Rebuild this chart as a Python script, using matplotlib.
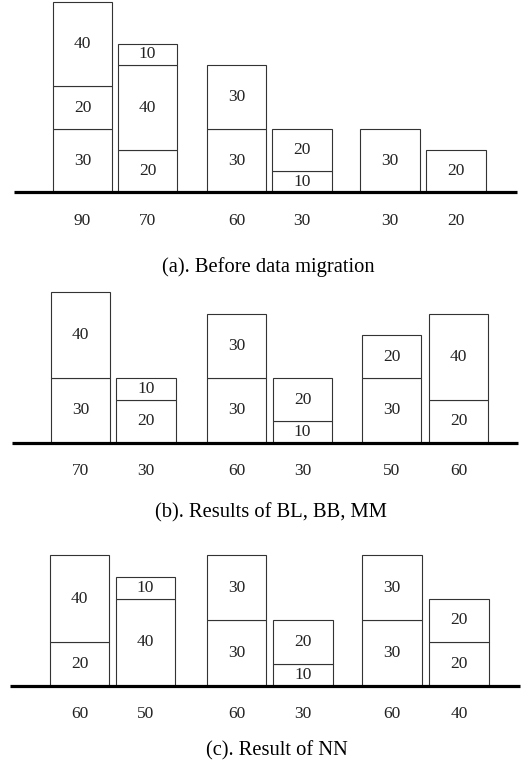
import matplotlib
matplotlib.use('Agg')
import matplotlib.pyplot as plt

plt.rcParams['font.family'] = ['Liberation Serif', 'DejaVu Serif']

W, H = 531, 769

# stacked segments of each bar, bottom to top
before = [[30, 20, 40], [20, 40, 10], [30, 30], [10, 20], [30], [20]]
bl_bb_mm = [[30, 40], [20, 10], [30, 30], [10, 20], [30, 20], [20, 40]]
nn = [[20, 40], [40, 10], [30, 30], [10, 20], [30, 30], [20, 20]]
captions = ['(a). Before data migration',
            '(b). Results of BL, BB, MM',
            '(c). Result of NN']

# layout of each panel in pixels (from the top of the image)
panels = [
    dict(data=before, base=192.3, top=0, scale=2.12, line=(14, 517),
         centers=[82.5, 147.5, 236.5, 302, 390, 456], total_y=221,
         cap_x=268, cap_y=267),
    dict(data=bl_bb_mm, base=442.7, top=280, scale=2.15, line=(12, 518),
         centers=[80.5, 146, 236.5, 302.5, 391.5, 458.5], total_y=471,
         cap_x=271, cap_y=513),
    dict(data=nn, base=685.7, top=530, scale=2.18, line=(10, 520),
         centers=[79.5, 145.5, 236.5, 303, 392, 459], total_y=714,
         cap_x=277, cap_y=751),
]
bar_w = 59.5
txt_col = '#222222'

fig = plt.figure(figsize=(W / 100, H / 100), dpi=100)

for p, cap in zip(panels, captions):
    h = p['base'] - p['top']
    ax = fig.add_axes([0, 1 - p['base'] / H, 1, h / H])
    ax.set_xlim(0, W)
    ax.set_ylim(0, h / p['scale'])
    ax.axis('off')

    for x, segs in zip(p['centers'], p['data']):
        bottom = 0
        for v in segs:
            ax.bar(x, v, bar_w, bottom=bottom, facecolor='white',
                   edgecolor='#333333', linewidth=0.8, clip_on=False)
            ax.text(x, bottom + v / 2, str(v), ha='center', va='center',
                    fontsize=12.5, color=txt_col)
            bottom += v
        fig.text(x / W, 1 - p['total_y'] / H, str(sum(segs)), ha='center',
                 va='center', fontsize=12.5, color=txt_col)

    ax.plot(p['line'], [0, 0], color='black', lw=2.3, clip_on=False,
            solid_capstyle='butt', zorder=5)
    fig.text(p['cap_x'] / W, 1 - p['cap_y'] / H, cap,
             ha='center', va='center', fontsize=14.8, color='black')

fig.savefig('out.png', dpi=100)
